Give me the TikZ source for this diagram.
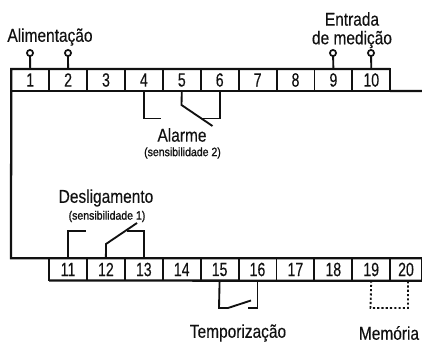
\documentclass[tikz,border=0pt]{standalone}
\usepackage{fontspec}
\usepackage{graphicx}
\setmainfont{Liberation Sans}
\newfontfamily\subfont[FakeBold=1.2]{Liberation Sans}
\newfontfamily\lblfont[FakeBold=0.3]{Liberation Sans}
\definecolor{ink}{HTML}{111111}
\tikzset{
  term/.style={draw=ink,line width=1.4pt,minimum width=28.4pt,minimum height=16.6pt,inner sep=0pt,outer sep=0pt,text=ink,font=\lblfont\fontsize{11.5pt}{13pt}\selectfont},
  wire/.style={draw=ink,line width=1.4pt,line join=miter},
  frame/.style={draw=ink,line width=1.7pt},
  pinc/.style={circle,draw=ink,line width=1.3pt,minimum size=4.6pt,inner sep=0pt,outer sep=0pt},
  lbl/.style={text=ink,inner sep=0pt,font=\lblfont\fontsize{11.6pt}{14pt}\selectfont},
  sub/.style={text=ink,inner sep=0pt,font=\subfont\fontsize{7.9pt}{9pt}\selectfont},
}
\newcommand{\tallnum}[1]{\scalebox{0.92}[1.25]{#1}}
\newcommand{\tallbl}[1]{\scalebox{1}[1.2]{#1}}
\begin{document}
\begin{tikzpicture}[x=0.75pt,y=-0.75pt]
\useasboundingbox (0,0) rectangle (422,342);
% top terminals
\foreach \n in {1,...,10}{
  \node[term] (t\n) at ({30.2+37.9*(\n-1)},80) {\tallnum{\n}};
}
% bottom terminals
\foreach \n in {11,...,19}{
  \node[term] (t\n) at ({68+37.9*(\n-11)},269.5) {\tallnum{\n}};
}
\node[term,minimum width=24pt] (t20) at (406,269.5) {\tallnum{20}};
% enclosure
\coordinate (fr) at (422,91);
\coordinate (br) at (422,258.3);
\coordinate (bb) at (422,280.7);
\draw[frame] (fr) -- (t10.south east);
\draw[frame] (t10.north east) -- (t1.north west) -- (11,258.3) -- (br);
\draw[frame] (bb) -- (t11.south west);
% pins
\foreach \n/\x in {1/30,2/68,9/333,10/371}{
  \node[pinc] (p\n) at (\x,53) {};
  \draw[wire] (p\n) -- (t\n.north);
}
% alarm
\coordinate (a4) at (161,118.5);
\coordinate (a6) at (202,118.5);
\coordinate (a5) at (212.5,126);
\draw[wire] (t4.south) |- (a4);
\draw[wire] (t5.south) -- (181.5,105) -- (a5);
\draw[wire] (t6.south) |- (a6);
% switch-off
\coordinate (d11) at (86,231);
\coordinate (d13) at (126.5,231);
\coordinate (d12) at (137,223);
\draw[wire] (t11.north) |- (d11);
\draw[wire] (t13.north) |- (d13);
\draw[wire] (t12.north) -- (106,244) -- (d12);
% timing
\coordinate (e15) at (228,308);
\coordinate (e15b) at (251,300.5);
\coordinate (e16) at (247.7,308);
\draw[wire] (t15.south) -- (219,308) -- (e15) -- (e15b);
\draw[wire] (t16.south) |- (e16);
% memory
\coordinate (m19) at (370.5,308);
\coordinate (m20) at (408,308);
\draw[wire,dash pattern=on 1.6pt off 1.6pt] (t19.south) -- (m19) -- (m20) -- (m20 |- t20.south);
% labels
\node[lbl] (lali) at (50,37) {\tallbl{Alimentação}};
\node[lbl] (lent) at (352,19) {\tallbl{Entrada}};
\node[lbl] (lmed) at (352,39.5) {\tallbl{de medição}};
\node[lbl] (lala) at (182,135) {\tallbl{Alarme}};
\node[sub] (lsa) at (182.5,153) {\scalebox{1}[1.15]{(sensibilidade 2)}};
\node[lbl] (ldes) at (106,198) {\tallbl{Desligamento}};
\node[sub] (lsd) at (107,216.5) {\scalebox{1}[1.15]{(sensibilidade 1)}};
\node[lbl] (ltem) at (238,333) {\tallbl{Temporização}};
\node[lbl] (lmem) at (389,333) {\tallbl{Memória}};
\end{tikzpicture}
\end{document}
